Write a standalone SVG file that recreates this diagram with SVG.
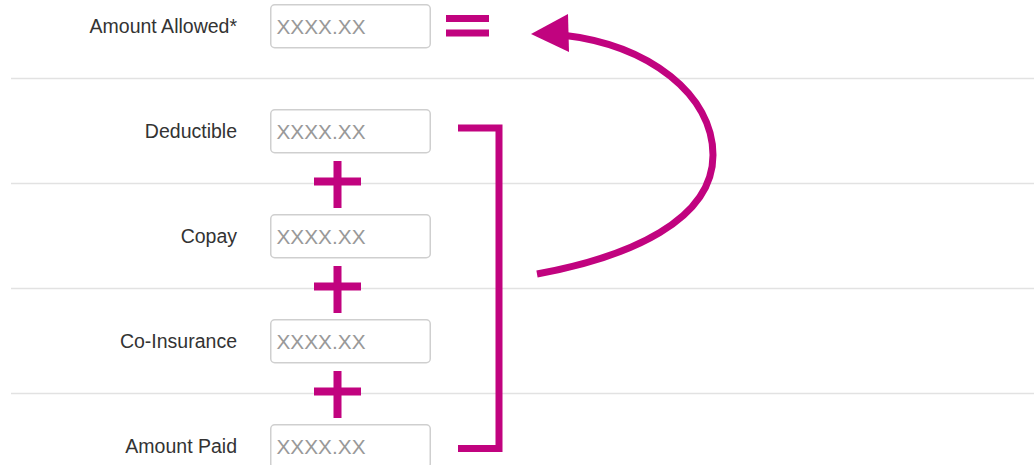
<svg xmlns="http://www.w3.org/2000/svg" width="1034" height="465" viewBox="0 0 1034 465">
<style>
.sep{stroke:#e2e2e2;stroke-width:1.5}
.lbl{font-family:"Liberation Sans",Arial,sans-serif;font-size:19.5px;fill:#333;text-anchor:end}
.box{fill:#fff;stroke:#cfcfcf;stroke-width:1.5}
.ph{font-family:"Liberation Sans",Arial,sans-serif;font-size:20.8px;fill:#999}
.mg{fill:#c1037f}
.mgs{fill:none;stroke:#c1037f;stroke-width:7}
</style>
<rect width="1034" height="465" fill="#fff"/>
<g id="separators">
<line class="sep" x1="11" y1="78.5" x2="1034" y2="78.5"/>
<line class="sep" x1="11" y1="183.5" x2="1034" y2="183.5"/>
<line class="sep" x1="11" y1="288.5" x2="1034" y2="288.5"/>
<line class="sep" x1="11" y1="393.5" x2="1034" y2="393.5"/>
</g>
<g id="amount-allowed">
<text class="lbl" x="237" y="33">Amount Allowed*</text>
<rect class="box" x="270.75" y="4.75" width="159.5" height="43" rx="4"/>
<text class="ph" x="276.5" y="34">XXXX.XX</text>
</g>
<g id="deductible">
<text class="lbl" x="237" y="138">Deductible</text>
<rect class="box" x="270.75" y="109.75" width="159.5" height="43" rx="4"/>
<text class="ph" x="276.5" y="139">XXXX.XX</text>
</g>
<g id="copay">
<text class="lbl" x="237" y="243">Copay</text>
<rect class="box" x="270.75" y="214.75" width="159.5" height="43" rx="4"/>
<text class="ph" x="276.5" y="244">XXXX.XX</text>
</g>
<g id="co-insurance">
<text class="lbl" x="237" y="348">Co-Insurance</text>
<rect class="box" x="270.75" y="319.75" width="159.5" height="43" rx="4"/>
<text class="ph" x="276.5" y="349">XXXX.XX</text>
</g>
<g id="amount-paid">
<text class="lbl" x="237" y="453">Amount Paid</text>
<rect class="box" x="270.75" y="424.75" width="159.5" height="43" rx="4"/>
<text class="ph" x="276.5" y="454">XXXX.XX</text>
</g>
<g id="operators">
<rect class="mg" x="446" y="15" width="43" height="7"/>
<rect class="mg" x="446" y="29.5" width="43" height="7"/>
<g id="plus1"><rect class="mg" x="314" y="177.5" width="47" height="8"/><rect class="mg" x="333.5" y="161" width="8" height="47"/></g>
<g id="plus2"><rect class="mg" x="314" y="282.5" width="47" height="8"/><rect class="mg" x="333.5" y="266" width="8" height="47"/></g>
<g id="plus3"><rect class="mg" x="314" y="387.5" width="47" height="8"/><rect class="mg" x="333.5" y="371" width="8" height="47"/></g>
</g>
<g id="connectors">
<path class="mgs" d="M458,128 H499 V448.5 H458"/>
<path class="mgs" stroke-width="8" d="M537,274 C630,257 713,220 713,155 C713,95 650,45 562,35"/>
<polygon class="mg" points="531,34 568,14 569,52"/>
</g>
</svg>
